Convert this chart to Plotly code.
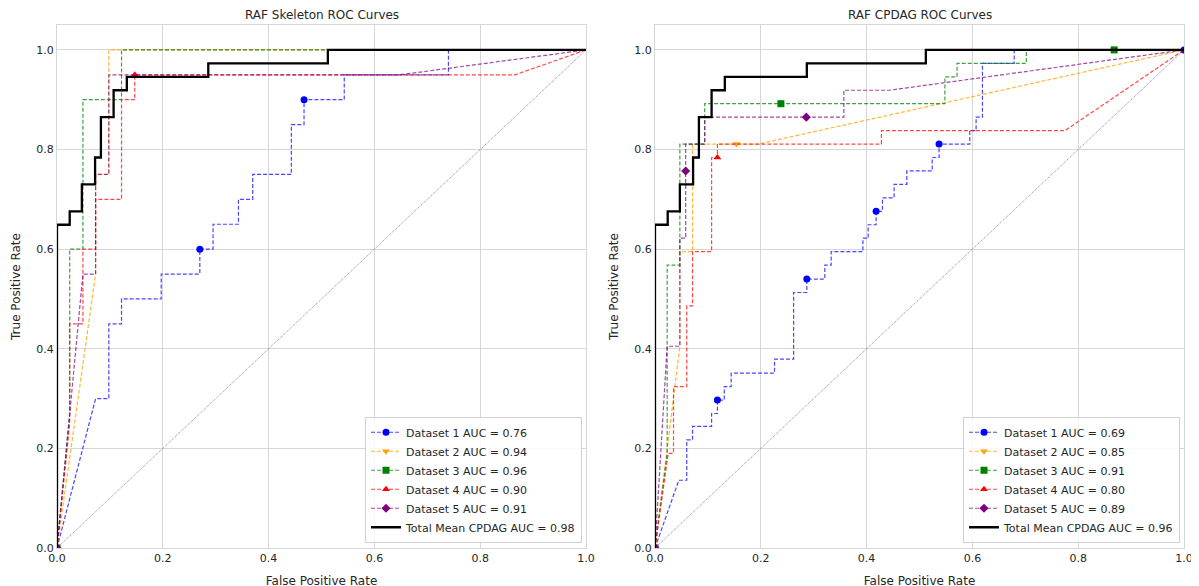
import plotly.graph_objects as go

# ---------------- data: left panel (RAF Skeleton) ----------------
skel_fpr_1 = [0, 0.073, 0.098, 0.098, 0.122, 0.122, 0.197, 0.197, 0.270, 0.270, 0.295, 0.295,
              0.343, 0.343, 0.370, 0.370, 0.443, 0.443, 0.467, 0.467, 0.543, 0.543, 0.740, 0.740, 1.0]
skel_tpr_1 = [0, 0.30, 0.30, 0.45, 0.45, 0.50, 0.50, 0.55, 0.55, 0.60, 0.60, 0.65,
              0.65, 0.70, 0.70, 0.75, 0.75, 0.85, 0.85, 0.90, 0.90, 0.95, 0.95, 1.0, 1.0]
skel_mark_1 = [9, 19]

skel_fpr_2 = [0, 0.073, 0.073, 0.098, 0.098, 1.0]
skel_tpr_2 = [0, 0.55, 0.75, 0.75, 1.0, 1.0]
skel_mark_2 = [0]

skel_fpr_3 = [0, 0.024, 0.024, 0.049, 0.049, 0.122, 0.122, 1.0]
skel_tpr_3 = [0, 0.27, 0.60, 0.60, 0.90, 0.90, 1.0, 1.0]
skel_mark_3 = [0]

skel_fpr_4 = [0, 0.024, 0.024, 0.049, 0.049, 0.073, 0.073, 0.122, 0.122, 0.147, 0.147, 0.866, 1.0]
skel_tpr_4 = [0, 0.25, 0.45, 0.45, 0.60, 0.60, 0.70, 0.70, 0.90, 0.90, 0.95, 0.95, 1.0]
skel_mark_4 = [0, 10]

skel_fpr_5 = [0, 0.049, 0.073, 0.073, 0.098, 0.098, 0.648, 1.0]
skel_tpr_5 = [0, 0.55, 0.55, 0.75, 0.75, 0.95, 0.95, 1.0]
skel_mark_5 = [0]

skel_fpr_mean = [0, 0, 0.024, 0.024, 0.047, 0.047, 0.072, 0.072, 0.083, 0.083, 0.107, 0.107,
                 0.132, 0.132, 0.286, 0.286, 0.512, 0.512, 1.0]
skel_tpr_mean = [0, 0.649, 0.649, 0.676, 0.676, 0.730, 0.730, 0.784, 0.784, 0.865, 0.865, 0.919,
                 0.919, 0.946, 0.946, 0.973, 0.973, 1.0, 1.0]

skel_auc = [0.76, 0.94, 0.96, 0.90, 0.91]
skel_mean_auc = 0.98

# ---------------- data: right panel (RAF CPDAG) ----------------
cpdag_fpr_1 = [0, 0.045, 0.060, 0.060, 0.071, 0.071, 0.107, 0.107, 0.118, 0.118, 0.131, 0.131,
               0.144, 0.144, 0.226, 0.226, 0.262, 0.262, 0.287, 0.287, 0.321, 0.321, 0.333, 0.333,
               0.393, 0.393, 0.403, 0.403, 0.418, 0.418, 0.430, 0.430, 0.452, 0.452, 0.476, 0.476,
               0.524, 0.524, 0.537, 0.537, 0.595, 0.595, 0.607, 0.607, 0.619, 0.619, 0.679, 0.679, 1.0]
cpdag_tpr_1 = [0, 0.136, 0.136, 0.217, 0.217, 0.244, 0.244, 0.270, 0.270, 0.297, 0.297, 0.324,
               0.324, 0.351, 0.351, 0.379, 0.379, 0.513, 0.513, 0.540, 0.540, 0.568, 0.568, 0.595,
               0.595, 0.622, 0.622, 0.649, 0.649, 0.676, 0.676, 0.703, 0.703, 0.730, 0.730, 0.757,
               0.757, 0.784, 0.784, 0.811, 0.811, 0.838, 0.838, 0.865, 0.865, 0.973, 0.973, 1.0, 1.0]
cpdag_mark_1 = [0, 9, 19, 29, 39, 48]

cpdag_fpr_2 = [0, 0.047, 0.047, 0.071, 0.071, 0.154, 0.195, 1.0]
cpdag_tpr_2 = [0, 0.405, 0.595, 0.595, 0.811, 0.811, 0.811, 1.0]
cpdag_mark_2 = [0, 5]

cpdag_fpr_3 = [0, 0.023, 0.023, 0.047, 0.047, 0.094, 0.094, 0.238, 0.548, 0.548, 0.571, 0.571,
               0.702, 0.702, 0.868, 1.0]
cpdag_tpr_3 = [0, 0.19, 0.568, 0.568, 0.811, 0.811, 0.892, 0.892, 0.892, 0.946, 0.946, 0.973,
               0.973, 1.0, 1.0, 1.0]
cpdag_mark_3 = [0, 7, 14]

cpdag_fpr_4 = [0, 0.025, 0.035, 0.035, 0.060, 0.060, 0.071, 0.071, 0.107, 0.107, 0.118, 0.118,
               0.428, 0.428, 0.775, 1.0]
cpdag_tpr_4 = [0, 0.19, 0.19, 0.324, 0.324, 0.486, 0.486, 0.595, 0.595, 0.784, 0.784, 0.811,
               0.811, 0.838, 0.838, 1.0]
cpdag_mark_4 = [0, 10]

cpdag_fpr_5 = [0, 0.023, 0.047, 0.047, 0.058, 0.058, 0.058, 0.094, 0.094, 0.286, 0.357, 0.357,
               0.443, 1.0]
cpdag_tpr_5 = [0, 0.405, 0.405, 0.622, 0.622, 0.757, 0.811, 0.811, 0.865, 0.865, 0.865, 0.919,
               0.919, 1.0]
cpdag_mark_5 = [0, 5, 9]

cpdag_fpr_mean = [0, 0, 0.024, 0.024, 0.047, 0.047, 0.072, 0.072, 0.083, 0.083, 0.107, 0.107,
                  0.132, 0.132, 0.287, 0.287, 0.512, 0.512, 1.0]
cpdag_tpr_mean = [0, 0.649, 0.649, 0.676, 0.676, 0.730, 0.730, 0.784, 0.784, 0.865, 0.865, 0.919,
                  0.919, 0.946, 0.946, 0.973, 0.973, 1.0, 1.0]

cpdag_auc = [0.69, 0.85, 0.91, 0.80, 0.89]
cpdag_mean_auc = 0.96

panel_titles = ["RAF Skeleton ROC Curves", "RAF CPDAG ROC Curves"]
tick_vals = [0.0, 0.2, 0.4, 0.6, 0.8, 1.0]
tick_text = ["0.0", "0.2", "0.4", "0.6", "0.8", "1.0"]
diag_xy = [0, 1]

# ---------------- styles ----------------
colors = ["#0000ff", "#ffa500", "#008000", "#ff0000", "#800080"]
line_colors = ["rgba(0,0,255,0.72)", "rgba(255,165,0,0.8)", "rgba(0,128,0,0.75)",
               "rgba(255,0,0,0.72)", "rgba(128,0,128,0.72)"]
symbols = ["circle", "triangle-down", "square", "triangle-up", "diamond"]
FONT = "DejaVu Sans"
GRID = "#d6d6d6"
TXT = "#262626"

fig = go.Figure()

panels = [
    dict(fprs=[skel_fpr_1, skel_fpr_2, skel_fpr_3, skel_fpr_4, skel_fpr_5],
         tprs=[skel_tpr_1, skel_tpr_2, skel_tpr_3, skel_tpr_4, skel_tpr_5],
         marks=[skel_mark_1, skel_mark_2, skel_mark_3, skel_mark_4, skel_mark_5],
         auc=skel_auc, mfpr=skel_fpr_mean, mtpr=skel_tpr_mean, mauc=skel_mean_auc,
         xa="x", ya="y", leg="legend"),
    dict(fprs=[cpdag_fpr_1, cpdag_fpr_2, cpdag_fpr_3, cpdag_fpr_4, cpdag_fpr_5],
         tprs=[cpdag_tpr_1, cpdag_tpr_2, cpdag_tpr_3, cpdag_tpr_4, cpdag_tpr_5],
         marks=[cpdag_mark_1, cpdag_mark_2, cpdag_mark_3, cpdag_mark_4, cpdag_mark_5],
         auc=cpdag_auc, mfpr=cpdag_fpr_mean, mtpr=cpdag_tpr_mean, mauc=cpdag_mean_auc,
         xa="x2", ya="y2", leg="legend2"),
]

for p in panels:
    # chance diagonal
    fig.add_trace(go.Scatter(x=diag_xy, y=diag_xy, mode="lines", xaxis=p["xa"], yaxis=p["ya"],
                             line=dict(color="rgba(20,20,150,0.65)", width=0.8, dash="1px,1px"),
                             showlegend=False, hoverinfo="skip"))
    for i in range(5):
        fig.add_trace(go.Scatter(
            x=p["fprs"][i], y=p["tprs"][i], mode="lines+markers",
            xaxis=p["xa"], yaxis=p["ya"], legend=p["leg"],
            name=f"Dataset {i+1} AUC = {p['auc'][i]:.2f}",
            line=dict(color=line_colors[i], width=1.2, dash="4px,2px"),
            marker=dict(color=colors[i], symbol=symbols[i], size=7, line=dict(width=0)),
            selectedpoints=p["marks"][i],
            selected=dict(marker=dict(opacity=1)),
            unselected=dict(marker=dict(opacity=0)),
        ))
    fig.add_trace(go.Scatter(
        x=p["mfpr"], y=p["mtpr"], mode="lines", xaxis=p["xa"], yaxis=p["ya"], legend=p["leg"],
        name=f"Total Mean CPDAG AUC = {p['mauc']:.2f}",
        line=dict(color="black", width=2.3)))

axis_common = dict(range=[0, 1], tickvals=tick_vals, ticktext=tick_text, showgrid=True,
                   gridcolor=GRID, gridwidth=1, zeroline=False, showline=True, linecolor=GRID,
                   linewidth=1, mirror=True, ticks="", automargin=False,
                   tickfont=dict(size=11, color=TXT, family=FONT),
                   title_font=dict(size=12, color=TXT, family=FONT))
yaxis_common = dict(axis_common)
yaxis_common["range"] = [0, 1.05]

# the page body adds an 8px offset, so margins are compensated for it
W, H = 1199, 586
ML, MR, MT, MB = 49, 23, 17, 46
PW = W - ML - MR
left_dom = [0, (586 - 57) / PW]
right_dom = [(655 - 57) / PW, 1]

fig.update_layout(
    width=W, height=H, margin=dict(l=ML, r=MR, t=MT, b=MB),
    paper_bgcolor="white", plot_bgcolor="white",
    font=dict(family=FONT, color=TXT),
    xaxis=dict(axis_common, domain=left_dom, anchor="y",
               title=dict(text="False Positive Rate", standoff=12)),
    yaxis=dict(yaxis_common, domain=[0, 1], anchor="x",
               title=dict(text="True Positive Rate", standoff=13)),
    xaxis2=dict(axis_common, domain=right_dom, anchor="y2",
                title=dict(text="False Positive Rate", standoff=12)),
    yaxis2=dict(yaxis_common, domain=[0, 1], anchor="x2",
                title=dict(text="True Positive Rate", standoff=13)),
    legend=dict(x=(582 - 57) / PW, y=0.01, xanchor="right", yanchor="bottom",
                bgcolor="rgba(255,255,255,0.85)", bordercolor="#d0d0d0", borderwidth=1,
                font=dict(size=11, color=TXT, family=FONT), tracegroupgap=0, itemwidth=30),
    legend2=dict(x=(1180 - 57) / PW, y=0.01, xanchor="right", yanchor="bottom",
                 bgcolor="rgba(255,255,255,0.85)", bordercolor="#d0d0d0", borderwidth=1,
                 font=dict(size=11, color=TXT, family=FONT), tracegroupgap=0, itemwidth=30),
    showlegend=True,
)

for k, t in enumerate(panel_titles):
    dom = left_dom if k == 0 else right_dom
    fig.add_annotation(text=t, x=(dom[0] + dom[1]) / 2, y=1, xref="paper", yref="paper",
                       xanchor="center", yanchor="bottom", yshift=1, showarrow=False,
                       font=dict(size=12, color=TXT, family=FONT))

fig.write_html("out.html")
